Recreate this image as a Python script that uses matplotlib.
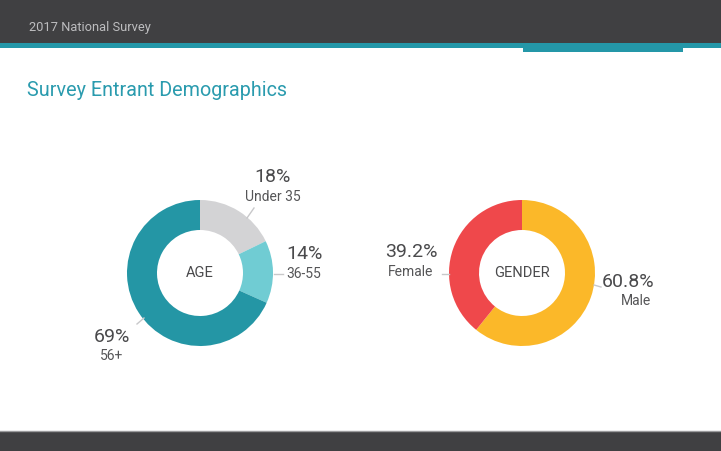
import matplotlib.pyplot as plt
from matplotlib.patches import Rectangle

plt.rcParams['font.family'] = ['Roboto', 'DejaVu Sans']

# Data
age_labels = ["Under 35", "36-55", "56+"]
age_values = [18, 14, 69]
age_colors = ["#D3D3D5", "#70CCD3", "#2496A5"]

gender_labels = ["Male", "Female"]
gender_values = [60.8, 39.2]
gender_colors = ["#FBB829", "#EF484B"]

W, H = 721, 451
DARK = "#404042"
TEAL = "#2497A8"

fig = plt.figure(figsize=(W / 100, H / 100), dpi=100)
ax = fig.add_axes([0, 0, 1, 0.999999])


def Y(py):
    # pixel row -> data y
    return H - py


# header / footer bars
ax.add_patch(Rectangle((0, Y(43)), W, 43, color=DARK, lw=0))
ax.add_patch(Rectangle((0, Y(48)), W, 5, color=TEAL, lw=0))
ax.add_patch(Rectangle((523, Y(52)), 160, 9, color=TEAL, lw=0))
ax.add_patch(Rectangle((0, 0), W, H - 431, color=DARK, lw=0))
ax.plot([0, W], [Y(431), Y(431)], color="#9a9a9c", lw=1)

ax.text(29, Y(27), "2017 National Survey", color="#BDBDBF", fontsize=9.3, va="center")
ax.text(27, Y(90), "Survey Entrant Demographics", color="#2A9BAE", fontsize=14.2, va="center")


def donut(cx, cy, values, colors, center_label):
    ax.pie(values, colors=colors, center=(cx, Y(cy)), radius=73, startangle=90,
           counterclock=False, wedgeprops=dict(width=30, linewidth=0))
    ax.text(cx, Y(cy), center_label, ha="center", va="center", fontsize=10.5,
            color="#4a4a4c")


donut(200, 273, age_values, age_colors, "AGE")
donut(522, 273, gender_values, gender_colors, "GENDER")

pct_kw = dict(fontsize=14, color="#4a4a4c", ha="center", va="center")
lab_kw = dict(fontsize=10, color="#555557", ha="center", va="center")
lead_kw = dict(color="#C8C8CA", lw=1)

# age labels
ax.text(273, Y(177), f"{age_values[0]}%", **pct_kw)
ax.text(273, Y(197), age_labels[0], **lab_kw)
ax.plot([247, 254], [Y(218), Y(208)], **lead_kw)

ax.text(304, Y(254), f"{age_values[1]}%", **pct_kw)
ax.text(304, Y(274), age_labels[1], **lab_kw)
ax.plot([274, 283], [Y(274), Y(274)], **lead_kw)

ax.text(112, Y(337), f"{age_values[2]}%", **pct_kw)
ax.text(112, Y(356), age_labels[2], **lab_kw)
ax.plot([137, 144], [Y(324), Y(318)], **lead_kw)

# gender labels
ax.text(411, Y(252), f"{gender_values[1]}%", **pct_kw)
ax.text(411, Y(272), gender_labels[1], **lab_kw)
ax.plot([442, 449], [Y(274), Y(274)], **lead_kw)

ax.text(628, Y(282), f"{gender_values[0]}%", **pct_kw)
ax.text(636, Y(301), gender_labels[0], **lab_kw)
ax.plot([594, 601], [Y(285), Y(287)], **lead_kw)

ax.set_xlim(0, W)
ax.set_ylim(0, H)
ax.set_aspect("auto")
ax.axis("off")

fig.savefig("out.png", dpi=100)
